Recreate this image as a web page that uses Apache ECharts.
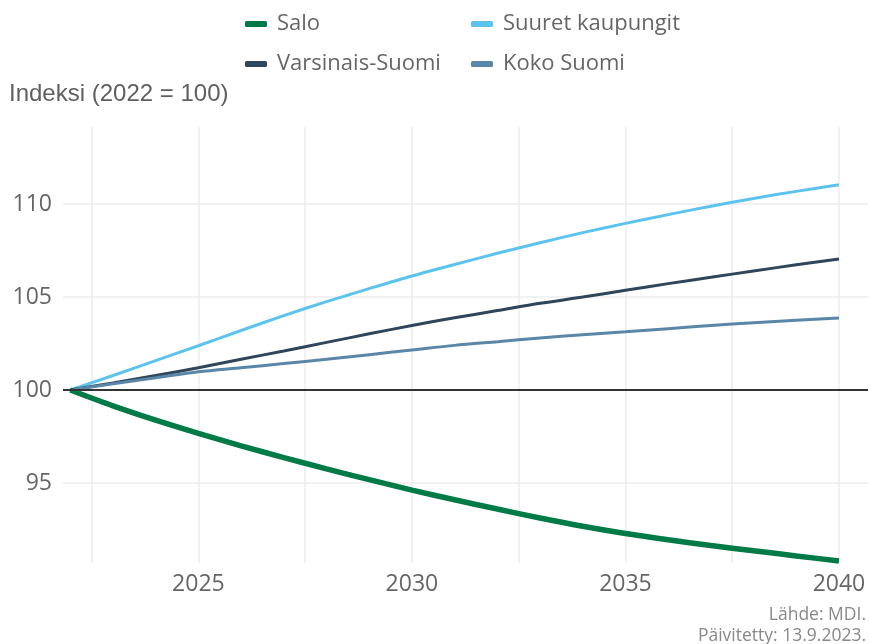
<!DOCTYPE html>
<html>
<head>
<meta charset="utf-8">
<title>Väestöindeksi</title>
<script src="https://cdn.jsdelivr.net/npm/echarts@6/dist/echarts.min.js"></script>
<style>
  html, body { margin: 0; padding: 0; background: #fff; }
  #main { width: 870px; height: 644px; }
</style>
</head>
<body>
<div id="main"></div>
<script>
// vuodet ja indeksit (2022 = 100), luettu kuvasta
var years = [2022, 2023, 2024, 2025, 2026, 2027, 2028, 2029, 2030, 2031,
             2032, 2033, 2034, 2035, 2036, 2037, 2038, 2039, 2040];
var salo = [100, 99.15, 98.38, 97.67, 97.0, 96.37, 95.76, 95.18, 94.62, 94.1,
            93.6, 93.12, 92.68, 92.29, 91.95, 91.64, 91.36, 91.08, 90.81];
var suuretKaupungit = [100, 100.78, 101.58, 102.38, 103.2, 104.0, 104.75, 105.45, 106.13, 106.75,
                       107.35, 107.92, 108.46, 108.96, 109.43, 109.88, 110.3, 110.68, 111.04];
var varsinaisSuomi = [100, 100.38, 100.78, 101.2, 101.65, 102.1, 102.56, 103.02, 103.47, 103.88,
                      104.27, 104.66, 105.0, 105.36, 105.72, 106.06, 106.4, 106.73, 107.04];
var kokoSuomi = [100, 100.34, 100.66, 100.98, 101.2, 101.42, 101.65, 101.9, 102.15, 102.4,
                 102.6, 102.8, 102.97, 103.13, 103.3, 103.47, 103.62, 103.75, 103.87];

var xLabels = [2025, 2030, 2035, 2040];
var xGrid = [2022.5, 2025, 2027.5, 2030, 2032.5, 2035, 2037.5, 2040];
var yLabels = [95, 100, 105, 110];

function pairs(vals) {
  return years.map(function (y, i) { return [y, vals[i]]; });
}

var chart = echarts.init(document.getElementById('main'));
var txt = '#666';
var legendText = { color: txt, fontSize: 22, fontFamily: 'Open Sans', lineHeight: 22, padding: [0, 0, 0, 5] };

chart.setOption({
  animation: false,
  legend: [
    { orient: 'vertical', left: 240, top: 8, itemWidth: 22, itemHeight: 6, itemGap: 18,
      icon: 'roundRect', textStyle: legendText, data: ['Salo', 'Varsinais-Suomi'] },
    { orient: 'vertical', left: 466, top: 8, itemWidth: 22, itemHeight: 6, itemGap: 18,
      icon: 'roundRect', textStyle: legendText, data: ['Suuret kaupungit', 'Koko Suomi'] }
  ],
  graphic: [
    { type: 'text', left: 9, top: 82,
      style: { text: 'Indeksi (2022 = 100)', fill: '#5f5f5f', font: '24px "Liberation Sans", Arial' } },
    { type: 'text', right: 4, bottom: -3,
      style: { text: 'Lähde: MDI.\nPäivitetty: 13.9.2023.', fill: '#888', textAlign: 'right',
               font: '17.5px "Open Sans"', lineHeight: 21 } }
  ],
  grid: { left: 63, right: 2, top: 127, height: 436 },
  xAxis: {
    type: 'value',
    min: 2021.83,
    max: 2040.68,
    axisLine: { show: false },
    axisTick: { show: false, customValues: xGrid },
    axisLabel: { customValues: xLabels, color: txt, fontSize: 23, fontFamily: 'Open Sans', margin: 10,
                 formatter: function (v) { return String(v); } },
    splitLine: { show: true, lineStyle: { color: '#ececec', width: 1.5 } }
  },
  yAxis: {
    type: 'value',
    min: 90.7,
    max: 114.14,
    axisLine: { show: false },
    axisTick: { show: false, customValues: yLabels },
    axisLabel: { customValues: yLabels, color: txt, fontSize: 23, fontFamily: 'Open Sans', margin: 11 },
    splitLine: { show: true, lineStyle: { color: '#ececec', width: 1.5 } }
  },
  series: [
    { name: 'Salo', type: 'line', data: pairs(salo), showSymbol: false, smooth: 0.3, z: 4,
      color: '#007a47', lineStyle: { width: 5.5 },
      markLine: { silent: true, symbol: 'none', label: { show: false },
                  lineStyle: { color: '#333', width: 2, type: 'solid' }, data: [{ yAxis: 100 }] } },
    { name: 'Suuret kaupungit', type: 'line', data: pairs(suuretKaupungit), showSymbol: false, smooth: 0.3,
      color: '#5cc3ef', lineStyle: { width: 3 } },
    { name: 'Varsinais-Suomi', type: 'line', data: pairs(varsinaisSuomi), showSymbol: false, smooth: 0.3,
      color: '#2e455a', lineStyle: { width: 3 } },
    { name: 'Koko Suomi', type: 'line', data: pairs(kokoSuomi), showSymbol: false, smooth: 0.3,
      color: '#5a86a8', lineStyle: { width: 3 } }
  ]
});
</script>
</body>
</html>
